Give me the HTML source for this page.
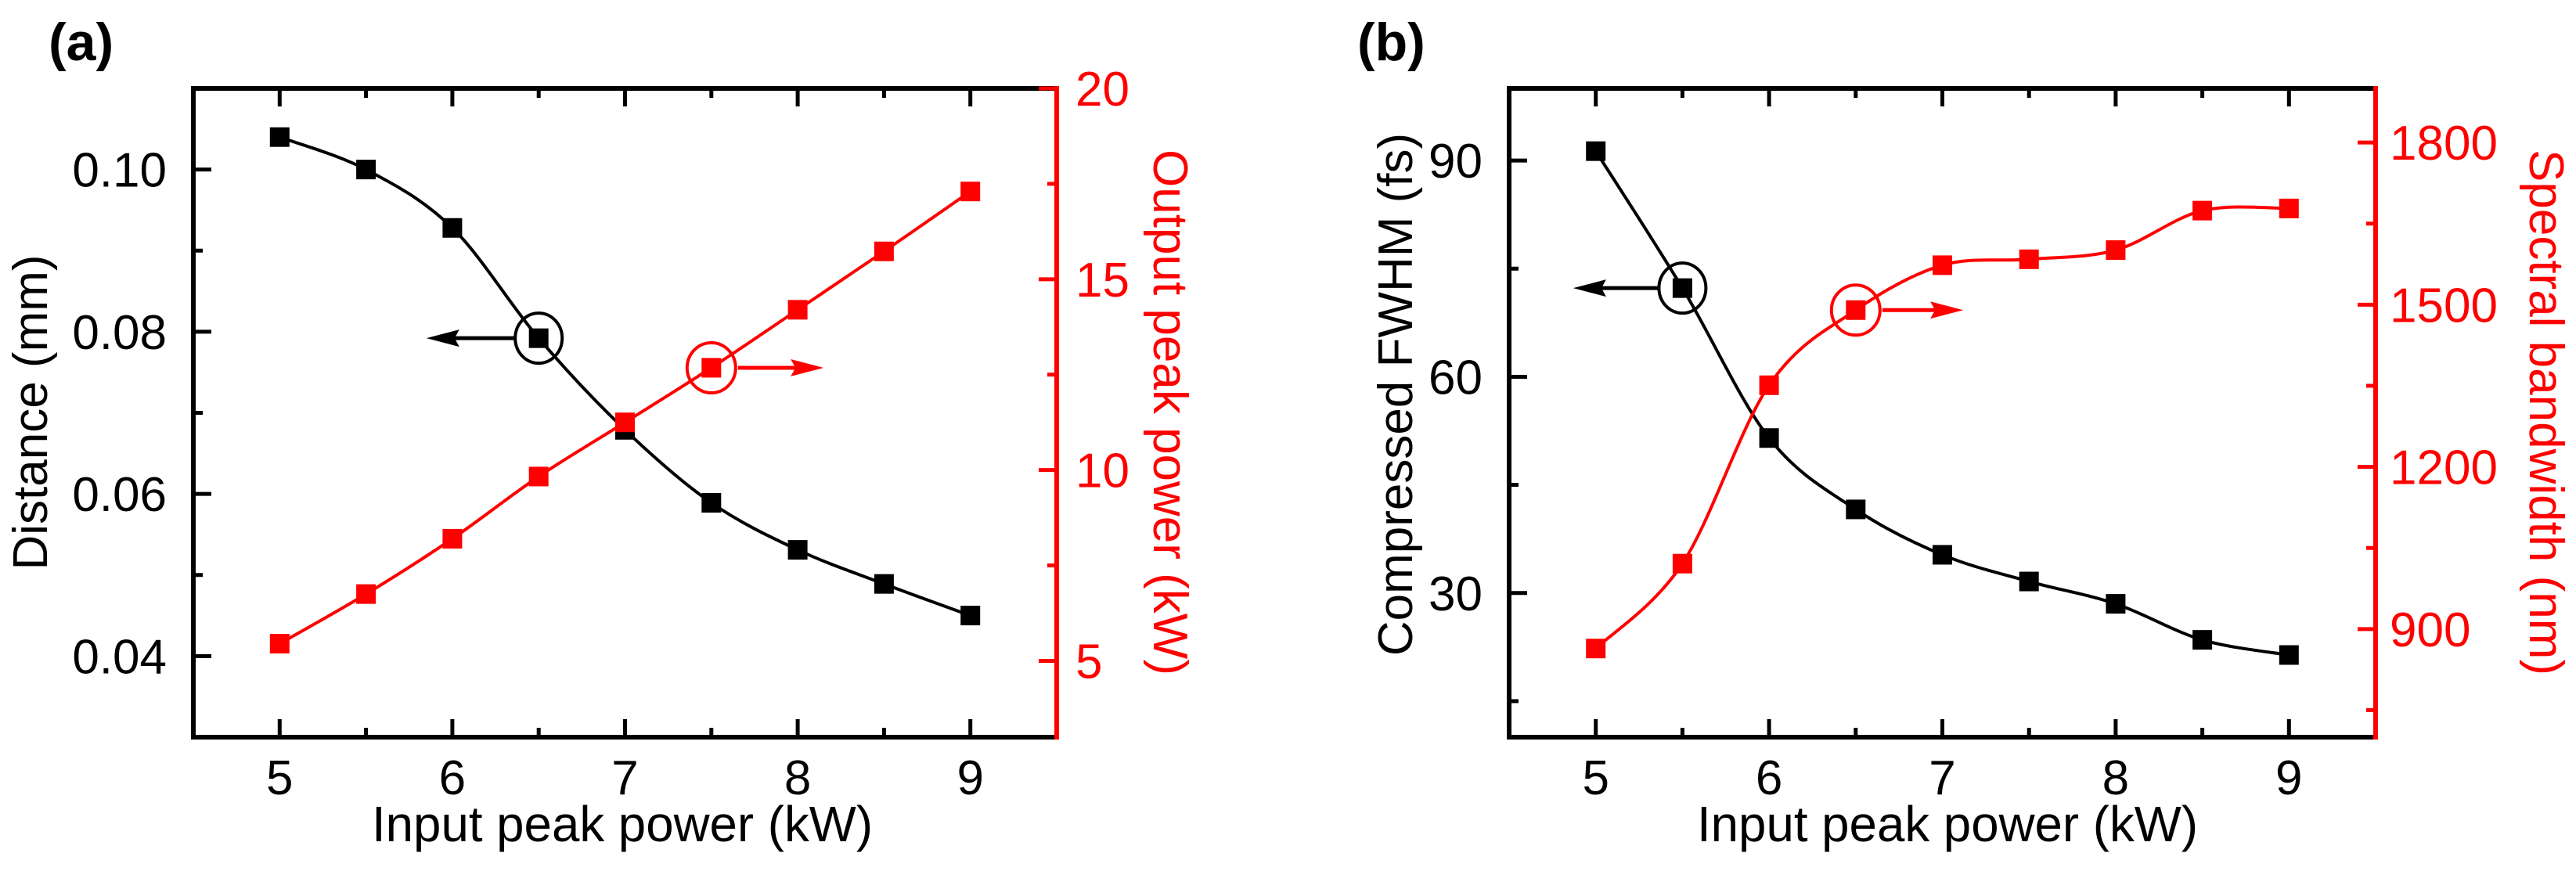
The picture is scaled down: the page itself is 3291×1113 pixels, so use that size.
<!DOCTYPE html>
<html><head><meta charset="utf-8"><style>
html,body{margin:0;padding:0;background:#fff;}
svg{display:block;font-family:"Liberation Sans",Arial,sans-serif;}
</style></head><body>
<svg id="fig" width="3291" height="1113" viewBox="0 0 3291 1113" xmlns="http://www.w3.org/2000/svg"></svg>
<script>
// ---------- data ----------
const xValues = [5, 5.5, 6, 6.5, 7, 7.5, 8, 8.5, 9];
const distanceMm = [0.104, 0.100, 0.0928, 0.0792, 0.0679, 0.0589, 0.0531, 0.0489, 0.0450];
const outputPeakKw = [5.45, 6.75, 8.2, 9.83, 11.25, 12.68, 14.2, 15.73, 17.3];
const fwhmFs = [91.3, 72.3, 51.5, 41.6, 35.3, 31.6, 28.5, 23.5, 21.4];
const bandwidthNm = [864, 1021, 1351, 1490, 1573, 1584, 1601, 1674, 1678];
const xTicks = [5, 6, 7, 8, 9];
const xMinor = [5.5, 6.5, 7.5, 8.5];
const aLeftTicks = [0.04, 0.06, 0.08, 0.10];
const aLeftMinor = [0.05, 0.07, 0.09];
const aRightTicks = [5, 10, 15, 20];
const aRightMinor = [7.5, 12.5, 17.5];
const bLeftTicks = [30, 60, 90];
const bLeftMinor = [15, 45, 75];
const bRightTicks = [900, 1200, 1500, 1800];
const bRightMinor = [750, 1050, 1350, 1650];

const NS = "http://www.w3.org/2000/svg";
const svg = document.getElementById("fig");
function mk(tag, attrs, parent) {
  const e = document.createElementNS(NS, tag);
  for (const k in attrs) e.setAttribute(k, attrs[k]);
  (parent || svg).appendChild(e);
  return e;
}
function lin(d0, d1, r0, r1) { return v => r0 + (v - d0) * (r1 - r0) / (d1 - d0); }
function spline(pts) {
  let d = "M" + pts[0][0] + "," + pts[0][1];
  for (let i = 0; i < pts.length - 1; i++) {
    const p0 = pts[i - 1] || pts[i], p1 = pts[i], p2 = pts[i + 1], p3 = pts[i + 2] || pts[i + 1];
    const c1x = p1[0] + (p2[0] - p0[0]) / 6, c1y = p1[1] + (p2[1] - p0[1]) / 6;
    const c2x = p2[0] - (p3[0] - p1[0]) / 6, c2y = p2[1] - (p3[1] - p1[1]) / 6;
    d += " C" + c1x + "," + c1y + " " + c2x + "," + c2y + " " + p2[0] + "," + p2[1];
  }
  return d;
}

function panel(cfg) {
  const g = mk("g", {});
  
  
  const L = cfg.left, R = cfg.right, T = 113, B = 942;
  const sx = lin(4.5, 9.5, L, R);
  const syl = lin(cfg.lmin, cfg.lmax, B, T);
  const syr = lin(cfg.rmin, cfg.rmax, B, T);

  // curves
  const lc = mk("path", {d: spline(xValues.map((x, i) => [sx(x), syl(cfg.lData[i])])), fill: "none", stroke: "#000", "stroke-width": 4}, g);
  
  
  const rc = mk("path", {d: spline(xValues.map((x, i) => [sx(x), syr(cfg.rData[i])])), fill: "none", stroke: "#f00", "stroke-width": 4}, g);
  
  
  // markers
  xValues.forEach((x, i) => {
    const m = mk("rect", {x: sx(x) - 12.5, y: syl(cfg.lData[i]) - 12.5, width: 25, height: 25, fill: "#000"}, g);
    
    
  });
  xValues.forEach((x, i) => {
    const m = mk("rect", {x: sx(x) - 12.5, y: syr(cfg.rData[i]) - 12.5, width: 25, height: 25, fill: "#f00"}, g);
    
    
  });

  // frame
  mk("path", {d: `M${R},${T} L${L},${T} L${L},${B} L${R},${B}`, fill: "none", stroke: "#000", "stroke-width": 6}, g);
  const ra = mk("line", {x1: R, y1: T - 3, x2: R, y2: B + 3, stroke: "#f00", "stroke-width": 6}, g);
  
  

  // x ticks
  xTicks.forEach(v => {
    mk("line", {x1: sx(v), y1: B, x2: sx(v), y2: B - 23, stroke: "#000", "stroke-width": 5}, g);
    mk("line", {x1: sx(v), y1: T, x2: sx(v), y2: T + 23, stroke: "#000", "stroke-width": 5}, g);
    const t = mk("text", {x: sx(v), y: 1015, "font-size": 62, "text-anchor": "middle", fill: "#000"}, g);
    t.textContent = v;
    
    
  });
  xMinor.forEach(v => {
    mk("line", {x1: sx(v), y1: B, x2: sx(v), y2: B - 12, stroke: "#000", "stroke-width": 5}, g);
    mk("line", {x1: sx(v), y1: T, x2: sx(v), y2: T + 12, stroke: "#000", "stroke-width": 5}, g);
  });
  // left ticks
  cfg.lTicks.forEach(v => {
    mk("line", {x1: L, y1: syl(v), x2: L + 23, y2: syl(v), stroke: "#000", "stroke-width": 5}, g);
    const t = mk("text", {x: L - 34, y: syl(v) + 22, "font-size": 62, "text-anchor": "end", fill: "#000"}, g);
    t.textContent = cfg.lFmt(v);
    
    
  });
  cfg.lMinor.forEach(v => mk("line", {x1: L, y1: syl(v), x2: L + 12, y2: syl(v), stroke: "#000", "stroke-width": 5}, g));
  // right ticks
  cfg.rTicks.forEach(v => {
    mk("line", {x1: R, y1: syr(v), x2: R - 23, y2: syr(v), stroke: "#f00", "stroke-width": 5}, g);
    const t = mk("text", {x: R + cfg.rOff, y: syr(v) + 22, "font-size": 62, "text-anchor": "start", fill: "#f00"}, g);
    t.textContent = v;
    
    
  });
  cfg.rMinor.forEach(v => mk("line", {x1: R, y1: syr(v), x2: R - 12, y2: syr(v), stroke: "#f00", "stroke-width": 5}, g));

  // titles
  const xt = mk("text", {x: cfg.xTitleX, y: 1075, "font-size": 64, "text-anchor": "middle", fill: "#000", textLength: 640, lengthAdjust: "spacingAndGlyphs"}, g);
  xt.textContent = "Input peak power (kW)";
  
  
  const lt = mk("text", {x: 0, y: 0, "font-size": 62, "text-anchor": "middle", fill: "#000", transform: `translate(${cfg.lTitleX},${cfg.lTitleY}) rotate(-90)`}, g);
  lt.textContent = cfg.lTitle;
  
  
  const rt = mk("text", {x: 0, y: 0, "font-size": 62, "text-anchor": "middle", fill: "#f00", transform: `translate(${cfg.rTitleX},${cfg.rTitleY}) rotate(90)`}, g);
  rt.textContent = cfg.rTitle;
  
  
  const pl = mk("text", {x: cfg.labelX, y: 77, "font-size": 68, "font-weight": "bold", fill: "#000"}, g);
  pl.textContent = cfg.label;
  
  

  // annotations
  const li = cfg.annL, ri = cfg.annR;
  const cx1 = sx(xValues[li]), cy1 = syl(cfg.lData[li]);
  const c1 = mk("ellipse", {cx: cx1, cy: cy1, rx: 30, ry: 32, fill: "none", stroke: "#000", "stroke-width": 4}, g);
  
  
  const tip1 = sx(cfg.arrowL);
  mk("line", {x1: cx1 - 30, y1: cy1, x2: tip1 + 20, y2: cy1, stroke: "#000", "stroke-width": 5}, g);
  const a1 = mk("polygon", {points: `${tip1},${cy1} ${tip1 + 42},${cy1 - 11} ${tip1 + 36},${cy1} ${tip1 + 42},${cy1 + 11}`, fill: "#000"}, g);
  
  
  const cx2 = sx(xValues[ri]), cy2 = syr(cfg.rData[ri]);
  const c2 = mk("ellipse", {cx: cx2, cy: cy2, rx: 31, ry: 32, fill: "none", stroke: "#f00", "stroke-width": 4}, g);
  
  
  const tip2 = sx(cfg.arrowR);
  mk("line", {x1: cx2 + 34, y1: cy2, x2: tip2 - 20, y2: cy2, stroke: "#f00", "stroke-width": 5}, g);
  const a2 = mk("polygon", {points: `${tip2},${cy2} ${tip2 - 42},${cy2 - 11} ${tip2 - 36},${cy2} ${tip2 - 42},${cy2 + 11}`, fill: "#f00"}, g);
  
  
}

panel({name: "panel-a", left: 247, right: 1350, lmin: 0.03, lmax: 0.11, rmin: 3, rmax: 20,
  lData: distanceMm, rData: outputPeakKw, lTicks: aLeftTicks, lMinor: aLeftMinor, rTicks: aRightTicks, rMinor: aRightMinor,
  lFmt: v => v.toFixed(2), rOff: 24, xTitleX: 795, lTitle: "Distance (mm)", lTitleX: 60, lTitleY: 527,
  rTitle: "Output peak power (kW)", rTitleX: 1474, rTitleY: 527, label: "(a)", labelX: 62,
  annL: 3, annR: 5, arrowL: 5.85, arrowR: 8.15});
panel({name: "panel-b", left: 1928, right: 3035, lmin: 10, lmax: 100, rmin: 700, rmax: 1900,
  lData: fwhmFs, rData: bandwidthNm, lTicks: bLeftTicks, lMinor: bLeftMinor, rTicks: bRightTicks, rMinor: bRightMinor,
  lFmt: v => String(v), rOff: 18, xTitleX: 2488, lTitle: "Compressed FWHM (fs)", lTitleX: 1804, lTitleY: 504,
  rTitle: "Spectral bandwidth (nm)", rTitleX: 3232, rTitleY: 527, label: "(b)", labelX: 1734,
  annL: 1, annR: 3, arrowL: 4.87, arrowR: 7.12});
</script>
</body></html>
